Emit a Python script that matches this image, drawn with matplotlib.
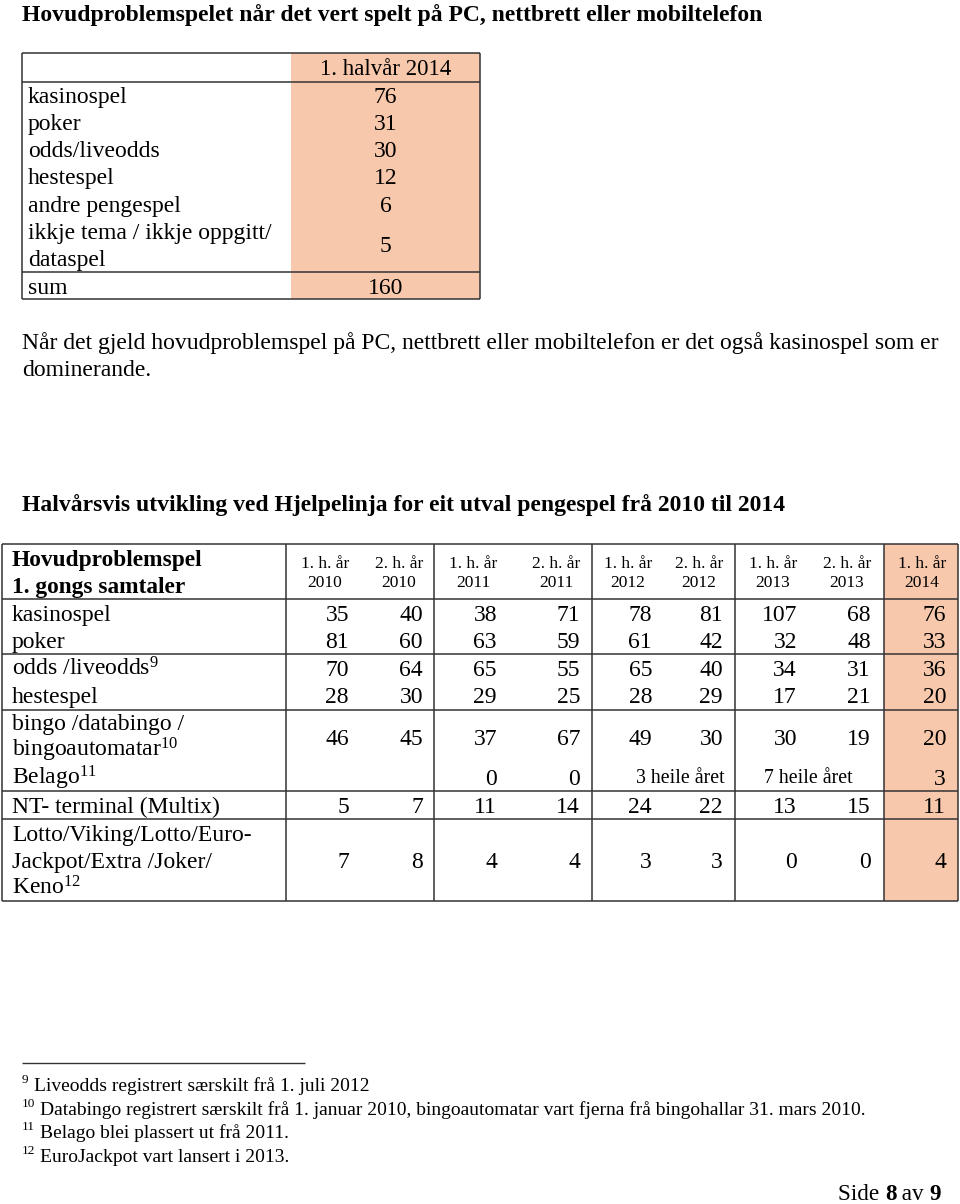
import matplotlib
matplotlib.use("Agg")
import matplotlib.pyplot as plt
from matplotlib.patches import Rectangle

plt.rcParams['font.family'] = ['Liberation Serif', 'DejaVu Serif']
plt.rcParams['mathtext.fontset'] = 'custom'
plt.rcParams['mathtext.rm'] = 'Liberation Serif'
plt.rcParams['mathtext.it'] = 'Liberation Serif:italic'
plt.rcParams['mathtext.bf'] = 'Liberation Serif:bold'

# --- data: table 1 (1. halvår 2014) ---
top_title = "Hovudproblemspelet når det vert spelt på PC, nettbrett eller mobiltelefon"
top_header = "1. halvår 2014"
top_cats = ["kasinospel", "poker", "odds/liveodds", "hestespel", "andre pengespel",
            "ikkje tema / ikkje oppgitt/\ndataspel"]
top_vals = [76, 31, 30, 12, 6, 5]
top_sum = 160

para = ["Når det gjeld hovudproblemspel på PC, nettbrett eller mobiltelefon er det også kasinospel som er",
        "dominerande."]

# --- data: table 2 (half-year development) ---
title2 = "Halvårsvis utvikling ved Hjelpelinja for eit utval pengespel frå 2010 til 2014"
halves = ["1. h. år", "2. h. år"] * 4 + ["1. h. år"]
years = ["2010", "2010", "2011", "2011", "2012", "2012", "2013", "2013", "2014"]
kasinospel = [35, 40, 38, 71, 78, 81, 107, 68, 76]
poker = [81, 60, 63, 59, 61, 42, 32, 48, 33]
odds = [70, 64, 65, 55, 65, 40, 34, 31, 36]
hestespel = [28, 30, 29, 25, 28, 29, 17, 21, 20]
bingo = [46, 45, 37, 67, 49, 30, 30, 19, 20]
belago = ["", "", "0", "0", "", "", "", "", "3"]
belago_year = ["3 heile året", "7 heile året"]   # 2012, 2013 whole year
nt_terminal = [5, 7, 11, 14, 24, 22, 13, 15, 11]
lotto = [7, 8, 4, 4, 3, 3, 0, 0, 4]

footnotes = [("9", "Liveodds registrert særskilt frå 1. juli 2012"),
             ("10", "Databingo registrert særskilt frå 1. januar 2010, bingoautomatar vart fjerna frå bingohallar 31. mars 2010."),
             ("11", "Belago blei plassert ut frå 2011."),
             ("12", "EuroJackpot vart lansert i 2013.")]

ORANGE = "#F7C8AB"
LINE = "#333333"
FS = 17

fig = plt.figure(figsize=(9.6, 12.04), dpi=100)
ax = fig.add_axes([0, 0, 1, 1])
ax.set_xlim(0, 960)
ax.set_ylim(1204, 0)
ax.axis('off')


def txt(x, y, s, size=FS, ha='left', weight='normal'):
    # y is the visual centre of the capitals; place on a common baseline
    base = y + 0.33 * size * 100 / 72
    return ax.text(x, base, s, fontsize=size, ha=ha, va='baseline', weight=weight)


def hline(x0, x1, y, lw=1.1):
    ax.plot([x0, x1], [y, y], color=LINE, lw=lw, solid_capstyle='butt')


def vline(x, y0, y1, lw=1.1):
    ax.plot([x, x], [y0, y1], color=LINE, lw=lw, solid_capstyle='butt')


def label_lines(x, y0, label, step):
    for i, part in enumerate(label.split("\n")):
        txt(x, y0 + i * step, part)


# ---------- table 1 ----------
txt(22, 13, top_title, size=17, weight='bold')

t1_left, t1_split, t1_right = 22, 291, 480
t1_top, t1_head, t1_sumtop, t1_bot = 53, 82, 272, 299
row_h = 27.2
ax.add_patch(Rectangle((t1_split, t1_top), t1_right - t1_split, t1_bot - t1_top,
                       color=ORANGE, lw=0))
val_x = (t1_split + t1_right) / 2
txt(val_x, 67, top_header, ha='center', size=16.5)
y = 95
for cat, v in zip(top_cats, top_vals):
    nlines = cat.count("\n") + 1
    label_lines(28, y, cat, row_h)
    txt(val_x, y + (nlines - 1) * row_h / 2, str(v), ha='center')
    y += nlines * row_h
txt(28, 286, "sum")
txt(val_x, 286, str(top_sum), ha='center')
for yy in [t1_top, t1_head, t1_sumtop, t1_bot]:
    hline(t1_left, t1_right, yy)
vline(t1_left, t1_top, t1_bot)
vline(t1_right, t1_top, t1_bot)

txt(22, 341, para[0])
txt(22, 368, para[1])

# ---------- table 2 ----------
txt(22, 503, title2, size=17, weight='bold')

group_x = [2, 286, 434, 592, 735, 884, 958]
col_right = [349, 423, 497, 580, 652, 723, 797, 871, 946]
row_lines = [544, 599, 654, 710, 791, 819, 901]

ax.add_patch(Rectangle((group_x[-2], row_lines[0]), group_x[-1] - group_x[-2],
                       row_lines[-1] - row_lines[0], color=ORANGE, lw=0))

txt(12, 558, "Hovudproblemspel", size=16.8, weight='bold')
txt(12, 585, "1. gongs samtaler", size=16.8, weight='bold')
for r, h, yr in zip(col_right, halves, years):
    txt(r - 24, 562, h, size=12.5, ha='center')
    txt(r - 24, 581, yr, size=12.5, ha='center')

rows = [("kasinospel", kasinospel, 613, 613),
        ("poker", poker, 640, 640),
        ("odds /liveodds$^{9}$", odds, 668, 668),
        ("hestespel", hestespel, 695, 695),
        ("bingo /databingo /\nbingoautomatar$^{10}$", bingo, 722, 737),
        ("NT- terminal (Multix)", nt_terminal, 805, 805),
        ("Lotto/Viking/Lotto/Euro-\nJackpot/Extra /Joker/\nKeno$^{12}$", lotto, 833, 860)]
for label, vals, ylab, yval in rows:
    label_lines(12, ylab, label, 27)
    for r, v in zip(col_right, vals):
        txt(r, yval, str(v), ha='right')

txt(12, 777, "Belago$^{11}$")
for r, v in zip(col_right, belago):
    if v:
        txt(r, 777, v, ha='right')
txt(col_right[5] + 2, 776, belago_year[0], size=14.3, ha='right')
txt((group_x[4] + group_x[5]) / 2 - 1, 776, belago_year[1], size=14.3, ha='center')

for yy in row_lines:
    hline(group_x[0], group_x[-1], yy)
for xx in group_x:
    vline(xx, row_lines[0], row_lines[-1])

# ---------- footnotes ----------
hline(22, 305, 1063, lw=1.0)
fy = 1085
for num, note in footnotes:
    txt(22, fy - 6, num, size=9.5)
    txt(22 + 6 * len(num) + 6, fy, note, size=14)
    fy += 23.5

# page number: "Side 8 av 9" with bold digits
renderer = fig.canvas.get_renderer()
parts = [("Side ", 'normal'), ("8", 'bold'), (" av ", 'normal'), ("9", 'bold')]
x = 838
for s, w in parts:
    t = txt(x, 1192, s, size=16.7, weight=w)
    bb = t.get_window_extent(renderer=renderer)
    x += bb.width

fig.savefig("out.png", dpi=100)
